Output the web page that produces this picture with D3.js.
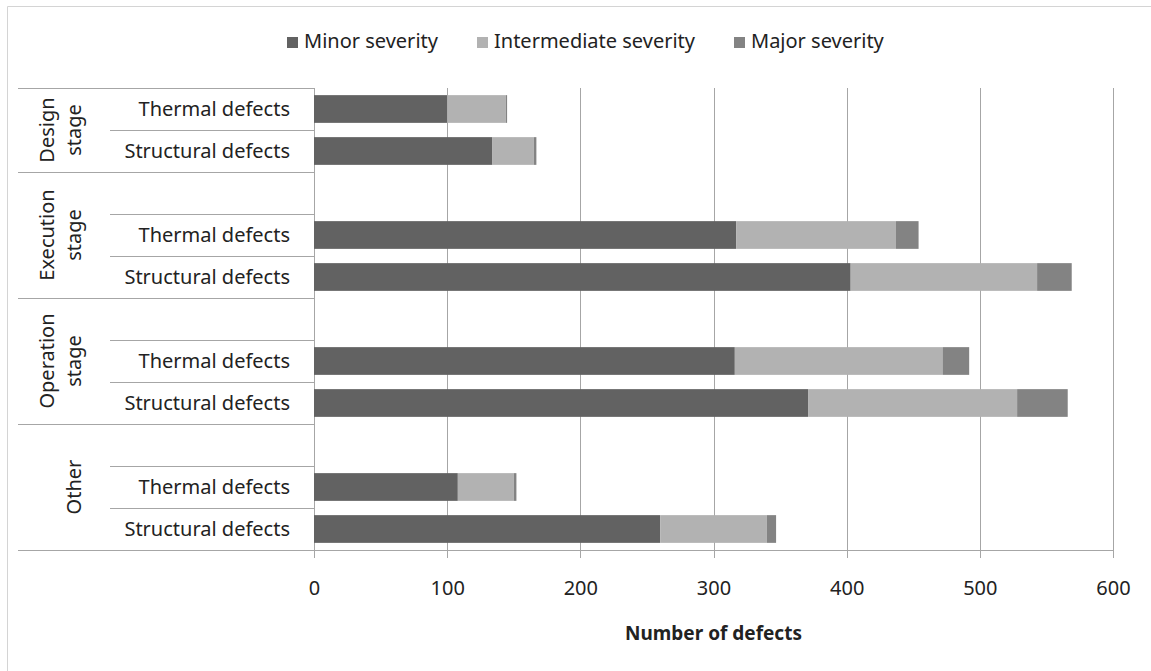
<!DOCTYPE html>
<html>
<head>
<meta charset="utf-8">
<script src="https://cdn.jsdelivr.net/npm/d3@7"></script>
<style>
  body { margin: 0; background: #fff; }
  text { font-family: "Noto Sans", "Open Sans", sans-serif; fill: #222; }
</style>
</head>
<body>
<div id="chart"></div>
<script>
// categories
const stages = ["Design stage", "Execution stage", "Operation stage", "Other"];
const stageLines = [["Design", "stage"], ["Execution", "stage"], ["Operation", "stage"], [null, "Other"]];
const defectTypes = ["Thermal defects", "Structural defects"];
const seriesNames = ["Minor severity", "Intermediate severity", "Major severity"];
const xTicks = [0, 100, 200, 300, 400, 500, 600];

// values per row: design thermal, design structural, execution thermal, ...
const minorValues = [100, 134, 317, 403, 316, 371, 108, 260];
const intermediateValues = [44, 31, 120, 140, 156, 157, 42, 80];
const majorValues = [1, 2, 17, 26, 20, 38, 2, 7];

const colors = ["#626262", "#b2b2b2", "#838383"];

const W = 1151, H = 671;
const plot = { left: 314, right: 1113, top: 88, bottom: 550 };
const tableLeft = 18, innerLeft = 110;

// build rows
const rows = [];
stages.forEach((stage, si) => {
  defectTypes.forEach((type, ti) => {
    const i = si * 2 + ti;
    rows.push({
      key: stage + "|" + type, stage, type,
      "Minor severity": minorValues[i],
      "Intermediate severity": intermediateValues[i],
      "Major severity": majorValues[i]
    });
  });
});

// slots: an empty slot sits above each group except the first
const slots = [];
stages.forEach((stage, si) => {
  if (si > 0) slots.push(stage + "|blank");
  defectTypes.forEach(type => slots.push(stage + "|" + type));
});

const svg = d3.select("#chart").append("svg")
  .attr("width", W).attr("height", H);

svg.append("rect").attr("width", W).attr("height", H).attr("fill", "#fff");

// outer frame (only left/top visible)
svg.append("path")
  .attr("d", `M7.5,${H} V6.5 H${W}`)
  .attr("fill", "none").attr("stroke", "#d4d4d4");

const x = d3.scaleLinear().domain([0, 600]).range([plot.left, plot.right]);
const y = d3.scaleBand().domain(slots).range([plot.top, plot.bottom])
  .paddingInner(0.34).paddingOuter(0.17);
const step = y.step();
const slotTop = k => y(k) - (step - y.bandwidth()) / 2;

// gridlines + ticks
svg.append("g").selectAll("line").data(xTicks).join("line")
  .attr("x1", d => Math.round(x(d)) + 0.5).attr("x2", d => Math.round(x(d)) + 0.5)
  .attr("y1", plot.top).attr("y2", plot.bottom + 8)
  .attr("stroke", "#a6a6a6");

const xAxis = svg.append("g")
  .attr("transform", `translate(0,${plot.bottom + 0.5})`)
  .call(d3.axisBottom(x).tickValues(xTicks).tickSize(0).tickPadding(30));
xAxis.select(".domain").remove();
xAxis.selectAll("text")
  .style("font-family", "'Noto Sans', sans-serif")
  .style("font-size", "20px")
  .attr("fill", "#222");

// bars
const stacked = d3.stack().keys(seriesNames)(rows);
svg.append("g").selectAll("g").data(stacked).join("g")
  .attr("fill", (d, i) => colors[i])
  .selectAll("rect").data(d => d).join("rect")
  .attr("x", d => x(d[0]))
  .attr("width", d => x(d[1]) - x(d[0]))
  .attr("y", d => y(d.data.key))
  .attr("height", y.bandwidth());

// table lines
const tbl = svg.append("g").attr("stroke", "#a6a6a6").attr("fill", "none");
stages.forEach((stage, si) => {
  const first = si > 0 ? stage + "|blank" : stage + "|" + defectTypes[0];
  const top = Math.round(slotTop(first)) + 0.5;
  tbl.append("line").attr("x1", tableLeft).attr("x2", plot.left).attr("y1", top).attr("y2", top);
  defectTypes.forEach((type, ti) => {
    if (si === 0 && ti === 0) return;
    const t = Math.round(slotTop(stage + "|" + type)) + 0.5;
    tbl.append("line").attr("x1", innerLeft).attr("x2", plot.left).attr("y1", t).attr("y2", t);
  });
});
tbl.append("line").attr("x1", tableLeft).attr("x2", plot.right + 0.5)
  .attr("y1", plot.bottom + 0.5).attr("y2", plot.bottom + 0.5);

// category labels
svg.append("g").selectAll("text").data(rows).join("text")
  .attr("x", 290)
  .attr("y", d => y(d.key) + y.bandwidth() / 2 + 7)
  .attr("text-anchor", "end")
  .style("font-size", "20px")
  .text(d => d.type);

// stage labels (rotated)
stages.forEach((stage, si) => {
  const first = si > 0 ? stage + "|blank" : stage + "|" + defectTypes[0];
  const last = stage + "|" + defectTypes[defectTypes.length - 1];
  const cy = (slotTop(first) + slotTop(last) + step) / 2;
  stageLines[si].forEach((line, li) => {
    if (!line) return;
    svg.append("text")
      .attr("transform", `translate(${54 + li * 27},${cy}) rotate(-90)`)
      .attr("text-anchor", "middle")
      .style("font-size", "20px")
      .text(line);
  });
});

// axis title
svg.append("text")
  .attr("x", (plot.left + plot.right) / 2)
  .attr("y", 640)
  .attr("text-anchor", "middle")
  .style("font-size", "19px")
  .style("font-weight", "bold")
  .text("Number of defects");

// legend
const legendX = [287, 477, 734];
const legend = svg.append("g").selectAll("g").data(seriesNames).join("g")
  .attr("transform", (d, i) => `translate(${legendX[i]},37)`);
legend.append("rect").attr("width", 11).attr("height", 11)
  .attr("fill", (d, i) => colors[i]);
legend.append("text").attr("x", 17).attr("y", 11)
  .style("font-size", "20px")
  .text(d => d);
</script>
</body>
</html>
